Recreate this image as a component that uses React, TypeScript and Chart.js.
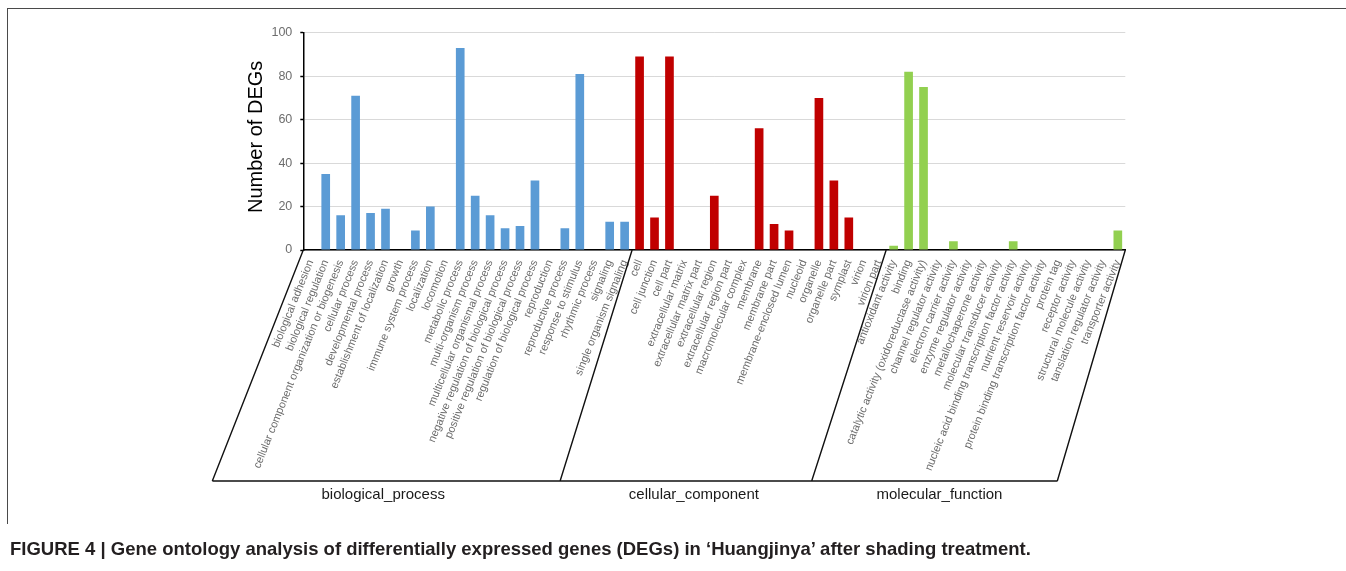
import React, { useEffect, useRef } from "react";
import { Chart, registerables } from "chart.js";

Chart.register(...registerables);

const bpLabels = [
  "biological adhesion",
  "biological regulation",
  "cellular component organization or biogenesis",
  "cellular process",
  "developmental process",
  "establishment of localization",
  "growth",
  "immune system process",
  "localization",
  "locomotion",
  "metabolic process",
  "multi-organism process",
  "multicellular organismal process",
  "negative regulation of biological process",
  "positive regulation of biological process",
  "regulation of biological process",
  "reproduction",
  "reproductive process",
  "response to stimulus",
  "rhythmic process",
  "signaling",
  "single organism signaling",
];
const bpValues = [0, 35, 16, 71, 17, 19, 0, 9, 20, 0, 93, 25, 16, 10, 11, 32, 0, 10, 81, 0, 13, 13];

const ccLabels = [
  "cell",
  "cell junction",
  "cell part",
  "extracellular matrix",
  "extracellular matrix part",
  "extracellular region",
  "extracellular region part",
  "macromolecular complex",
  "membrane",
  "membrane part",
  "membrane-enclosed lumen",
  "nucleoid",
  "organelle",
  "organelle part",
  "symplast",
  "virion",
  "virion part",
];
const ccValues = [89, 15, 89, 0, 0, 25, 0, 0, 56, 12, 9, 0, 70, 32, 15, 0, 0];

const mfLabels = [
  "antioxidant activity",
  "binding",
  "catalytic activity (oxidoreductase activity)",
  "channel regulator activity",
  "electron carrier activity",
  "enzyme regulator activity",
  "metallochaperone activity",
  "molecular transducer activity",
  "nucleic acid binding transcription factor activity",
  "nutrient reservoir activity",
  "protein binding transcription factor activity",
  "protein tag",
  "receptor activity",
  "structural molecule activity",
  "tanslation regulator activity",
  "transporter activity",
];
const mfValues = [2, 82, 75, 0, 4, 0, 0, 0, 4, 0, 0, 0, 0, 0, 0, 9];

const groupNames = ["biological_process", "cellular_component", "molecular_function"];
const groupColors = ["#5b9bd5", "#c00000", "#92d050"];
const yTicks = [0, 20, 40, 60, 80, 100];
const yTitle = "Number of DEGs";
const caption =
  "FIGURE 4 | Gene ontology analysis of differentially expressed genes (DEGs) in \u2018Huangjinya\u2019 after shading treatment.";

const FONT = '"Liberation Sans", Arial, sans-serif';

export default function App() {
  const canvasRef = useRef<HTMLCanvasElement | null>(null);

  useEffect(() => {
    const canvas = canvasRef.current;
    if (!canvas) return;
    const groups = [bpLabels, ccLabels, mfLabels];
    const groupValues = [bpValues, ccValues, mfValues];
    const labels: string[] = ([] as string[]).concat(...groups);
    const values: number[] = ([] as number[]).concat(...groupValues);
    const colors: string[] = [];
    groups.forEach((g, gi) => g.forEach(() => colors.push(groupColors[gi])));

    // skew of the bracket lines (style), bottom y and label offsets
    const skew = [91, 72, 74.5, 68];
    const labelShift = [-3, 8, 5];

    const decor = {
      id: "goDecor",
      afterDraw(chart: any) {
        const { ctx, chartArea } = chart;
        const xs = chart.scales.x;
        const n = labels.length;
        const slot = (xs.right - xs.left) / n;
        const idx = [0, bpLabels.length, bpLabels.length + ccLabels.length, n];
        const topY = chartArea.bottom;
        const botY = topY + 231;
        const tops = idx.map((i) => xs.left + i * slot);
        const bots = tops.map((t, i) => t - skew[i]);
        ctx.save();
        ctx.strokeStyle = "#111";
        ctx.lineWidth = 1.4;
        ctx.beginPath();
        for (let i = 0; i < tops.length; i++) {
          ctx.moveTo(tops[i], topY);
          ctx.lineTo(bots[i], botY);
        }
        ctx.moveTo(bots[0], botY);
        ctx.lineTo(bots[3], botY);
        ctx.stroke();
        ctx.fillStyle = "#1a1a1a";
        ctx.font = "15px " + FONT;
        ctx.textAlign = "center";
        ctx.textBaseline = "middle";
        for (let g = 0; g < 3; g++) {
          ctx.fillText(groupNames[g], (bots[g] + bots[g + 1]) / 2 + labelShift[g], botY + 14);
        }
        // y axis title
        ctx.translate(chartArea.left - 46.6, (chartArea.top + chartArea.bottom) / 2 - 4.5);
        ctx.rotate(-Math.PI / 2);
        ctx.fillStyle = "#000";
        ctx.font = "20px " + FONT;
        ctx.fillText(yTitle, 0, 0);
        ctx.restore();
      },
    };

    const chart = new Chart(canvas, {
      type: "bar",
      data: {
        labels,
        datasets: [
          {
            data: values,
            backgroundColor: colors,
            borderWidth: 0,
            barPercentage: 0.58,
            categoryPercentage: 1,
          },
        ],
      },
      options: {
        responsive: false,
        animation: false,
        devicePixelRatio: 1,
        layout: { padding: { left: 245, top: 32.7, right: 220.7, bottom: 81 } },
        plugins: { legend: { display: false }, tooltip: { enabled: false }, title: { display: false } },
        scales: {
          x: {
            type: "category",
            grid: { display: false, drawTicks: false },
            border: { display: true, color: "#000", width: 1.5 },
            ticks: {
              autoSkip: false,
              minRotation: 68,
              maxRotation: 68,
              padding: 8,
              color: "#6a6a6a",
              font: { size: 11, family: FONT },
            },
            afterFit: (scale: any) => {
              scale.height = 240;
            },
          },
          y: {
            min: 0,
            max: 100,
            afterBuildTicks: (scale: any) => {
              scale.ticks = yTicks.map((v) => ({ value: v }));
            },
            grid: {
              color: "#d9d9d9",
              lineWidth: 1,
              tickColor: "#000",
              tickLength: 3,
              tickWidth: 1.5,
            },
            border: { display: true, color: "#000", width: 1.5 },
            ticks: {
              padding: 8,
              color: "#6d6d6d",
              font: { size: 12.5, family: FONT },
            },
            afterFit: (scale: any) => {
              scale.width = 58.3;
            },
          },
        },
      },
      plugins: [decor],
    });
    return () => chart.destroy();
  }, []);

  return (
    <div
      style={{
        position: "fixed",
        left: 0,
        top: 0,
        width: 1346,
        height: 571,
        background: "#fff",
        overflow: "hidden",
      }}
    >
      <div
        style={{
          position: "absolute",
          left: 7,
          top: 8,
          width: 1339,
          height: 516,
          borderTop: "1.5px solid #4a4a4a",
          borderLeft: "1.5px solid #4a4a4a",
          boxSizing: "border-box",
        }}
      />
      <canvas
        ref={canvasRef}
        width={1346}
        height={571}
        style={{ position: "absolute", left: 0, top: 0, width: 1346, height: 571 }}
      />
      <div
        style={{
          position: "absolute",
          left: 10,
          top: 538,
          fontFamily: FONT,
          fontWeight: "bold",
          fontSize: 18.5,
          lineHeight: "22px",
          color: "#231f20",
          whiteSpace: "nowrap",
        }}
      >
        {caption}
      </div>
    </div>
  );
}
